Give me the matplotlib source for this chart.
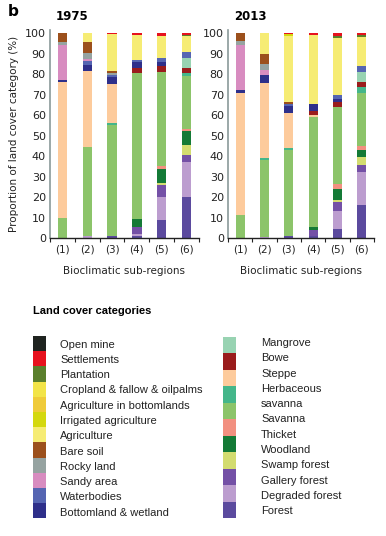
import numpy as np
import matplotlib
matplotlib.use('Agg')
import matplotlib.pyplot as plt
from matplotlib.patches import Rectangle

# stacking order, bottom -> top
categories = ['Forest', 'Degraded forest', 'Gallery forest', 'Swamp forest', 'Woodland',
              'Thicket', 'Savanna', 'Herbaceous savanna', 'Steppe', 'Bowe', 'Mangrove',
              'Bottomland & wetland', 'Waterbodies', 'Sandy area', 'Rocky land', 'Bare soil',
              'Agriculture', 'Irrigated agriculture', 'Agriculture in bottomlands',
              'Cropland & fallow & oilpalms', 'Plantation', 'Settlements', 'Open mine']
colors = ['#5b4a9e', '#bc9dcf', '#7450a6', '#d3dc70', '#147a36',
          '#f29080', '#8cc46a', '#44b68a', '#fdcb9c', '#9a1c1c', '#98d3b2',
          '#2e2f8a', '#5565b2', '#d88cc0', '#96a3a1', '#9c501c',
          '#f6ec74', '#d4d80e', '#efcb3a',
          '#f2e448', '#5a7f2c', '#e6121e', '#1f2420']

regions = ['(1)', '(2)', '(3)', '(4)', '(5)', '(6)']
years = ['1975', '2013']

# share (%) per category and sub-region (1)..(6)
forest_75 = [0, 0, 1, 1, 9, 20]
degraded_75 = [0, 1, 0, 1, 11, 17]
gallery_75 = [0, 0, 0, 3.5, 6, 3.5]
swamp_75 = [0, 0, 0, 0, 1, 5]
woodland_75 = [0, 0, 0, 4, 6.5, 6.5]
thicket_75 = [0, 0, 0, 0, 1.5, 1]
savanna_75 = [10, 43.5, 54, 71, 46, 26]
herbaceous_75 = [0, 0, 1, 0, 0, 1.5]
steppe_75 = [66, 37, 19, 0, 0, 0]
bowe_75 = [0, 0, 0, 2.5, 3, 2.5]
mangrove_75 = [0, 0, 0, 0, 0, 5]
bottomland_75 = [1, 3, 3.5, 3, 2, 0]
water_75 = [0, 2, 1, 1, 2, 3]
sandy_75 = [17, 1, 0, 0, 0, 0]
rocky_75 = [1.5, 3, 1, 0, 0, 0]
bare_75 = [4.5, 5, 1, 0, 0, 0]
agri_75 = [0, 4.5, 18, 12.3, 10.5, 7.5]
irrigated_75 = [0, 0, 0, 0, 0, 0]
agri_bottom_75 = [0, 0, 0, 0, 0, 0]
cropland_75 = [0, 0, 0, 0, 0, 0]
plantation_75 = [0, 0, 0, 0, 0, 0.5]
settlements_75 = [0, 0, 0.5, 0.7, 1.5, 1]
mine_75 = [0, 0, 0, 0, 0, 0]

forest_13 = [0, 0, 1, 1, 4.5, 16]
degraded_13 = [0, 0.5, 0, 0, 8.5, 16]
gallery_13 = [0, 0, 0, 3, 4.5, 3.5]
swamp_13 = [0, 0, 0, 0, 1, 4]
woodland_13 = [0, 0, 0, 1.5, 5.5, 3.5]
thicket_13 = [0, 0, 0, 0, 2.5, 2]
savanna_13 = [11, 37.5, 42, 53.5, 37.5, 26]
herbaceous_13 = [0, 1, 1, 0, 0, 2.5]
steppe_13 = [60, 36.5, 17, 1, 0, 0]
bowe_13 = [0, 0, 0, 2, 2.5, 2.5]
mangrove_13 = [0, 0, 0, 0, 0, 5]
bottomland_13 = [1, 4, 3.5, 3.5, 1.5, 0]
water_13 = [0, 0, 1, 0, 2, 3]
sandy_13 = [22, 2.5, 0, 0, 0, 0]
rocky_13 = [2, 3, 0, 0, 0, 0]
bare_13 = [4, 5, 1, 0, 0, 0]
agri_13 = [0, 10, 32, 33.5, 27.5, 14]
irrigated_13 = [0, 0, 1, 0, 0, 0]
agri_bottom_13 = [0, 0, 0, 0, 0, 0]
cropland_13 = [0, 0, 0, 0, 0, 0]
plantation_13 = [0, 0, 0, 0, 1, 1]
settlements_13 = [0, 0, 0.5, 1, 1.5, 1]
mine_13 = [0, 0, 0, 0, 0, 0]

data_75 = [forest_75, degraded_75, gallery_75, swamp_75, woodland_75, thicket_75,
           savanna_75, herbaceous_75, steppe_75, bowe_75, mangrove_75, bottomland_75,
           water_75, sandy_75, rocky_75, bare_75, agri_75, irrigated_75, agri_bottom_75,
           cropland_75, plantation_75, settlements_75, mine_75]
data_13 = [forest_13, degraded_13, gallery_13, swamp_13, woodland_13, thicket_13,
           savanna_13, herbaceous_13, steppe_13, bowe_13, mangrove_13, bottomland_13,
           water_13, sandy_13, rocky_13, bare_13, agri_13, irrigated_13, agri_bottom_13,
           cropland_13, plantation_13, settlements_13, mine_13]

# legend columns as in the figure (top -> bottom)
legend_left = ['Open mine', 'Settlements', 'Plantation', 'Cropland & fallow & oilpalms',
               'Agriculture in bottomlands', 'Irrigated agriculture', 'Agriculture',
               'Bare soil', 'Rocky land', 'Sandy area', 'Waterbodies', 'Bottomland & wetland']
legend_right = ['Mangrove', 'Bowe', 'Steppe', 'Herbaceous savanna', 'Savanna', 'Thicket',
                'Woodland', 'Swamp forest', 'Gallery forest', 'Degraded forest', 'Forest']

col = dict(zip(categories, colors))

plt.rcParams['font.family'] = 'DejaVu Sans'
fig = plt.figure(figsize=(3.86, 5.36), dpi=100)

ax_pos = [[50 / 386, 1 - 238 / 536, 149 / 386, 208 / 536],
          [228 / 386, 1 - 238 / 536, 146 / 386, 208 / 536]]

x = np.arange(len(regions))
for k, (year, data) in enumerate(zip(years, [data_75, data_13])):
    ax = fig.add_axes(ax_pos[k])
    bottom = np.zeros(len(regions))
    for cat, vals in zip(categories, data):
        vals = np.array(vals, dtype=float)
        ax.bar(x, vals, width=0.37, bottom=bottom, color=col[cat], linewidth=0)
        bottom += vals
    ax.set_xlim(-0.5, 5.5)
    ax.set_ylim(0, 101.5)
    ax.set_yticks(np.arange(0, 101, 10))
    ax.tick_params(axis='y', length=0, labelsize=8, pad=3, colors='#222222')
    ax.set_xticks(x)
    ax.set_xticklabels(regions)
    ax.set_xticks(np.arange(-0.5, 6, 1), minor=True)
    ax.tick_params(axis='x', which='major', length=0, labelsize=7.5, pad=5, colors='#222222')
    ax.tick_params(axis='x', which='minor', length=3, width=0.8, color='#222222')
    for s in ['top', 'right']:
        ax.spines[s].set_visible(False)
    ax.spines['left'].set_color('#8a9a9a')
    ax.spines['left'].set_linewidth(1.2)
    ax.spines['bottom'].set_color('#222222')
    ax.spines['bottom'].set_linewidth(1.0)
    ax.set_xlabel('Bioclimatic sub-regions', fontsize=7.5, labelpad=8, color='#222222')
    ax.text(0.04, 1.035, year, transform=ax.transAxes, fontsize=8.5, fontweight='bold',
            ha='left', va='bottom')
    if k == 0:
        ax.set_ylabel('Proportion of land cover category (%)', fontsize=7.5, labelpad=4,
                      color='#222222')

fig.text(8 / 386, 1 - 12 / 536, 'b', fontsize=11, fontweight='bold', va='center')

# legend drawn in pixel space
lg = fig.add_axes([0, 0, 1, 1])
lg.set_xlim(0, 386)
lg.set_ylim(536, 0)
lg.axis('off')
lg.text(33, 311, 'Land cover categories', fontsize=8, fontweight='bold',
        family='Liberation Sans', va='center')

step = 15.2
for i, name in enumerate(legend_left):
    lg.add_patch(Rectangle((33, 336 + i * step), 13, step, color=col[name], lw=0))
    lg.text(60, 344.5 + i * 15.3, name, fontsize=8, family='Liberation Sans',
            va='center', color='#222222')

step_r = 181.5 / len(legend_right)
for i, name in enumerate(legend_right):
    lg.add_patch(Rectangle((223, 336.5 + i * step_r), 13, step_r, color=col[name], lw=0))
right_lines = ['Mangrove', 'Bowe', 'Steppe', 'Herbaceous', 'savanna', 'Savanna', 'Thicket',
               'Woodland', 'Swamp forest', 'Gallery forest', 'Degraded forest', 'Forest']
for i, t in enumerate(right_lines):
    lg.text(261, 343 + i * 15.3, t, fontsize=8, family='Liberation Sans',
            va='center', color='#222222')

fig.savefig('out.png', dpi=100)
